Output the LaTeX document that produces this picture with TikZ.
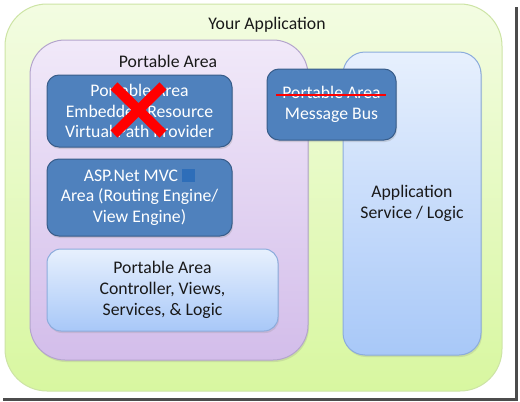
\documentclass[tikz,border=0pt]{standalone}
\usepackage{fontspec}
\setmainfont{Carlito}
\usetikzlibrary{shadows, arrows.meta, positioning, calc, shapes}

\definecolor{appgreentop}{RGB}{243,252,226}
\definecolor{appgreenbot}{RGB}{216,247,160}
\definecolor{appgreenline}{RGB}{205,228,165}
\definecolor{patop}{RGB}{241,233,249}
\definecolor{pabot}{RGB}{211,189,234}
\definecolor{paline}{RGB}{180,165,205}
\definecolor{darkbox}{RGB}{79,129,189}
\definecolor{darkboxline}{RGB}{56,93,138}
\definecolor{lighttop}{RGB}{231,240,253}
\definecolor{lightbot}{RGB}{168,200,248}
\definecolor{lightline}{RGB}{140,172,220}
\definecolor{mvcsquare}{RGB}{46,110,185}

\begin{document}
\begin{tikzpicture}[x=1pt, y=-1pt,
    txt/.style={font=\fontsize{17.7}{20.7}\selectfont, align=center, text=black!90},
    appbox/.style={draw=appgreenline, line width=1pt, top color=appgreentop, bottom color=appgreenbot, rounded corners=42pt},
    pabox/.style={draw=paline, line width=1pt, top color=patop, bottom color=pabot, rounded corners=35pt,
      drop shadow={opacity=0.2, shadow xshift=1pt, shadow yshift=-2pt}},
    darkbox/.style={draw=darkboxline, line width=1pt, fill=darkbox, rounded corners=12pt, txt, text=white,
      drop shadow={opacity=0.25, shadow xshift=1pt, shadow yshift=-2pt}},
    lightbox/.style={draw=lightline, line width=1pt, top color=lighttop, bottom color=lightbot, txt,
      drop shadow={opacity=0.2, shadow xshift=1pt, shadow yshift=-2pt}},
    cross/.style={draw=red, line width=10pt},
    strike/.style={draw=red, line width=1.8pt}]
  \useasboundingbox (0,0) rectangle (520,402);
  \fill[white] (0,0) rectangle (520,402);
  \draw[line width=3pt, gray!60!black] (516,7) -- (516,399) -- (3,399);

  \node (app) [appbox, minimum width=497pt, minimum height=387pt] at (253.5,197.5) {};
  \node (apptitle) [txt] at (267,25) {Your Application};

  \node (pa) [pabox, minimum width=278pt, minimum height=320pt] at (169,200) {};
  \node (patitle) [txt] at (168,61) {Portable Area};

  \node (vpp) [darkbox, minimum width=185pt, minimum height=72pt] at (139.5,111)
    {Portable Area\\Embedded Resource\\Virtual Path Provider};
  \node (mvc) [darkbox, minimum width=185pt, minimum height=77pt] at (139.5,197.5)
    {ASP.Net MVC {\color{mvcsquare}\rule[-1pt]{13pt}{13pt}}\\Area (Routing Engine/\\View Engine)};
  \node (logic) [lightbox, rounded corners=14pt, minimum width=231pt, minimum height=82pt] at (162.5,290)
    {Portable Area\\Controller, Views,\\Services, \& Logic};

  \node (svc) [lightbox, rounded corners=22pt, minimum width=138pt, minimum height=303pt] at (412,203.5)
    {Application\\Service / Logic};
  \node (bus) [darkbox, minimum width=129pt, minimum height=71pt] at (331.5,104.5)
    {Portable Area\\Message Bus};

  \draw[cross] (114,86) -- (163,134) (163,86) -- (114,134);
  \draw[strike] (276,95) -- (386,95);
\end{tikzpicture}
\end{document}
